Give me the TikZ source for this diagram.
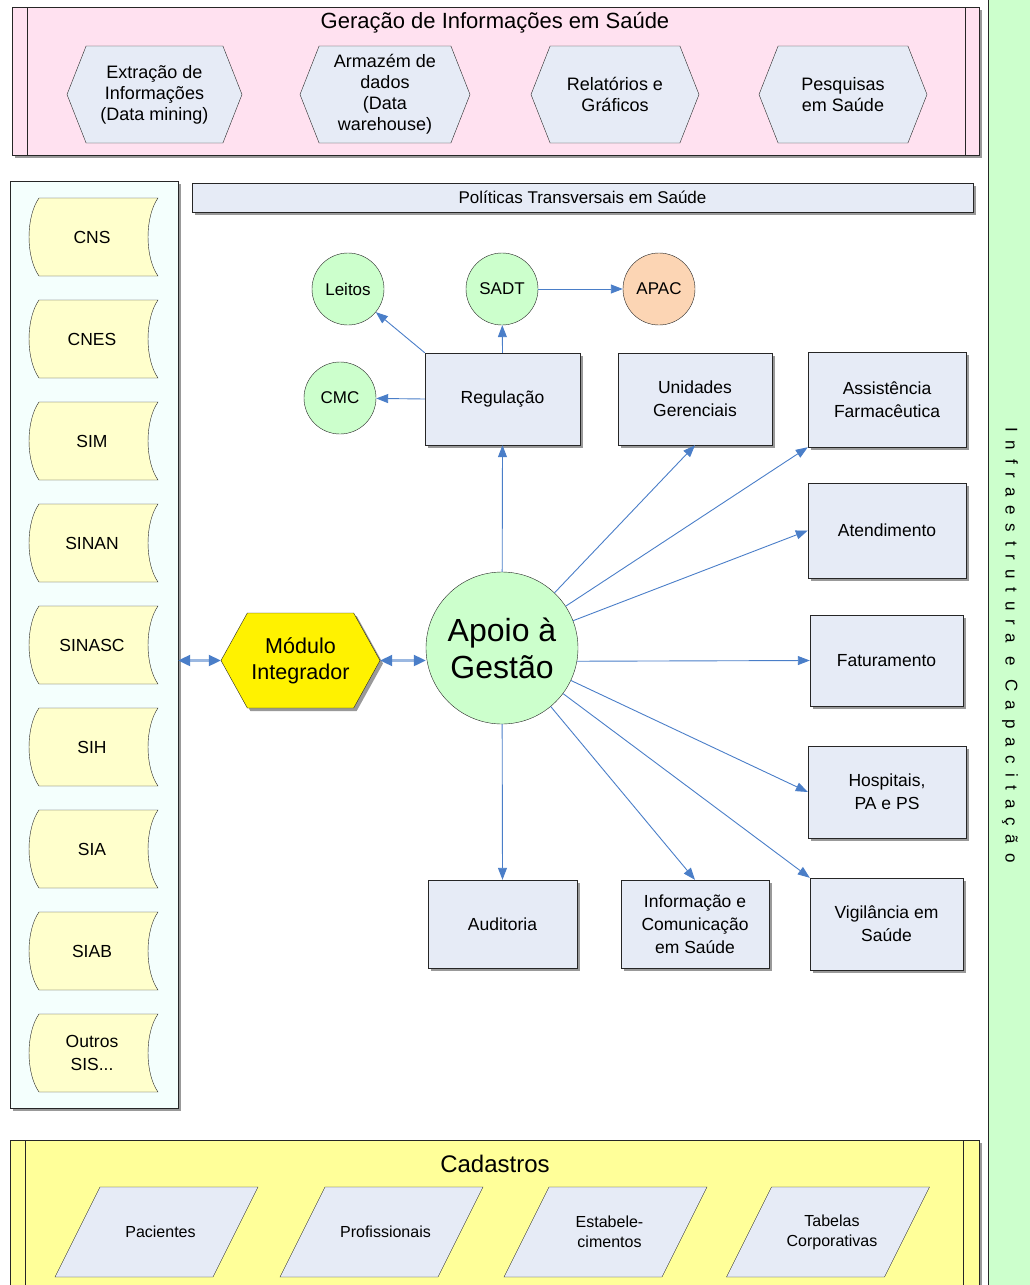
\documentclass[tikz,border=0pt]{standalone}
\usepackage{fontspec}
\setmainfont{Liberation Sans}
\usetikzlibrary{shapes.symbols,arrows.meta,shadows}

\definecolor{bandpink}{HTML}{FFE1F0}
\definecolor{bandyellow}{HTML}{FFFF99}
\definecolor{boxblue}{HTML}{E6EBF6}
\definecolor{tapeyellow}{HTML}{FFFFCC}
\definecolor{circgreen}{HTML}{CCFFCC}
\definecolor{circorange}{HTML}{FCD5B4}
\definecolor{panelcyan}{HTML}{F4FFFD}
\definecolor{arrowblue}{HTML}{4A7EC8}

\begin{document}
\begin{tikzpicture}
[
    x=1pt, y=-1pt,
    shad/.style={drop shadow={shadow xshift=3pt, shadow yshift=-3pt, fill=black!40, opacity=1}},
    modbox/.style={draw=black!85, fill=boxblue, shad, minimum width=155pt, minimum height=92pt,
        align=center, font=\fontsize{17.5}{23}\selectfont},
    smallcirc/.style={circle, draw=black!85, fill=circgreen, minimum size=72pt, inner sep=0pt,
        font=\fontsize{17}{20}\selectfont},
    hexa/.style={signal, signal to=west and east, draw=black!85, fill=boxblue, minimum height=97pt,
        signal pointer angle=137, inner sep=0pt, align=center, font=\fontsize{18}{21}\selectfont},
    tape/.style={draw=black!85, fill=tapeyellow},
    parall/.style={draw=black!85, fill=boxblue},
    conn/.style={draw=arrowblue, line width=0.9pt, -{Triangle[length=12pt, width=9pt]}},
    dbl/.style={draw=arrowblue!55, line width=2.2pt,
        {Triangle[length=12pt, width=11pt, fill=arrowblue, color=arrowblue]}-{Triangle[length=12pt, width=11pt, fill=arrowblue, color=arrowblue]}},
]
\useasboundingbox (0,0) rectangle (1030,1285);

% infraestrutura (faixa direita)
\node [draw=black!85, fill=circgreen, minimum width=46pt, minimum height=1310pt, inner sep=0pt] (infra) at (1011,642.5) {};
\node [rotate=-90, font=\fontsize{17}{20}\selectfont\addfontfeature{LetterSpace=52}] (infratxt) at (1010,645)
{Infraestrutura e Capacitação};

% geracao de informacoes
\node [draw=black!85, fill=bandpink, shad, minimum width=967pt, minimum height=148pt, inner sep=0pt] (gerinf) at (495.5,81) {};
\draw [black!85] (27,7) -- (27,155) (965,7) -- (965,155);
\node [font=\fontsize{22}{25}\selectfont] (gerinftit) at (495,23) {Geração de Informações em Saúde};
\node [hexa, minimum width=175pt] (mining) at (154.5,94.5) {Extração de\\Informações\\(Data mining)};
\node [hexa, minimum width=170pt] (warehouse) at (385,94.5) {Armazém de\\dados\\(Data\\warehouse)};
\node [hexa, minimum width=168pt] (relat) at (615,94.5) {Relatórios e\\Gráficos};
\node [hexa, minimum width=168pt] (pesq) at (843,94.5) {Pesquisas\\em Saúde};

% sistemas (coluna esquerda)
\node [draw=black!85, fill=panelcyan, shad, minimum width=168pt, minimum height=927pt, inner sep=0pt] (sis) at (94,644.5) {};
\foreach \nm/\txt [count=\i] in {cns/CNS, cnes/CNES, sim/SIM, sinan/SINAN, sinasc/SINASC, sih/SIH, sia/SIA, siab/SIAB, outros/{Outros\\SIS...}}
{
    \pgfmathsetmacro{\yy}{237+102*(\i-1)}
    \draw [tape] (39,\yy-39) -- (158,\yy-39) .. controls (144.7,\yy-20) and (144.7,\yy+20) .. (158,\yy+39)
        -- (39,\yy+39) .. controls (25.7,\yy+20) and (25.7,\yy-20) .. (39,\yy-39) -- cycle;
    \node [align=center, font=\fontsize{17.5}{23}\selectfont] (\nm) at (92,\yy) {\txt};
}

% politicas transversais
\node [draw=black!85, fill=boxblue, shad, minimum width=781pt, minimum height=29pt, inner sep=0pt,
    font=\fontsize{17}{19}\selectfont] (polit) at (582.5,197.5) {Políticas Transversais em Saúde};

% centro
\node [circle, draw=black!85, fill=circgreen, minimum size=152pt, inner sep=0pt, align=center,
    font=\fontsize{32}{37}\selectfont] (apoio) at (502,648) {Apoio à\\Gestão};
\node [signal, signal to=west and east, signal pointer angle=122, draw=black!85, fill=yellow, shad,
    minimum width=159pt, minimum height=95pt, inner sep=0pt, align=center,
    font=\fontsize{21.5}{26}\selectfont] (modint) at (300.5,660.5) {Módulo\\Integrador};

\node [modbox] (reg) at (502.5,399) {Regulação};
\node [modbox, minimum width=154pt] (unid) at (695,399) {Unidades\\Gerenciais};
\node [modbox, minimum width=158pt, minimum height=95pt] (assist) at (887,399.5) {Assistência\\Farmacêutica};
\node [modbox, minimum width=158pt, minimum height=95pt] (atend) at (887,530.5) {Atendimento};
\node [modbox, minimum width=153pt, minimum height=91pt] (fatur) at (886.5,660.5) {Faturamento};
\node [modbox, minimum width=158pt] (hosp) at (887,792) {Hospitais,\\PA e PS};
\node [modbox, minimum width=149pt, minimum height=88pt] (audit) at (502.5,924) {Auditoria};
\node [modbox, minimum width=148pt, minimum height=88pt] (info) at (695,924) {Informação e\\Comunicação\\em Saúde};
\node [modbox, minimum width=153pt] (vigil) at (886.5,924) {Vigilância em\\Saúde};

\node [smallcirc] (leitos) at (348,289) {Leitos};
\node [smallcirc] (sadt) at (502,289) {SADT};
\node [smallcirc, fill=circorange] (apac) at (659,289) {APAC};
\node [smallcirc] (cmc) at (340,398) {CMC};

% conexoes
\draw [dbl] (sis.east |- modint.west) -- (modint.west);
\draw [dbl] (modint.east) -- (apoio.west |- modint.east);
\draw [conn] (apoio) -- (reg.south);
\draw [conn] (apoio) -- (unid.south);
\draw [conn] (apoio) -- (assist.south west);
\draw [conn] (apoio) -- (atend.west);
\draw [conn] (apoio.-10) -- (fatur.west);
\draw [conn] (apoio) -- (hosp.west);
\draw [conn] (apoio) -- (vigil.north west);
\draw [conn] (apoio) -- (info.north);
\draw [conn] (apoio) -- (audit.north);
\draw [conn] (reg.north west) -- (leitos);
\draw [conn] (reg.north) -- (sadt);
\draw [conn] (reg.west) -- (cmc);
\draw [conn] (sadt) -- (apac);

% cadastros
\node [draw=black!85, fill=bandyellow, shad, minimum width=969pt, minimum height=160pt, inner sep=0pt] (cadas) at (494.5,1220) {};
\draw [black!85] (25,1140) -- (25,1300) (963,1140) -- (963,1300);
\node [font=\fontsize{24}{27}\selectfont] (cadastit) at (495,1164) {Cadastros};
\foreach \nm/\cx/\txt in {pac/156.5/Pacientes, prof/381.5/Profissionais, estab/605.5/{Estabele-\\cimentos}, tabcorp/828/{Tabelas\\Corporativas}}
{
    \draw [parall] (\cx-101.5,1277) -- (\cx-56.5,1187) -- (\cx+101.5,1187) -- (\cx+56.5,1277) -- cycle;
    \node [align=center, font=\fontsize{16}{20}\selectfont] (\nm) at (\cx+4,1232) {\txt};
}
\end{tikzpicture}
\end{document}
